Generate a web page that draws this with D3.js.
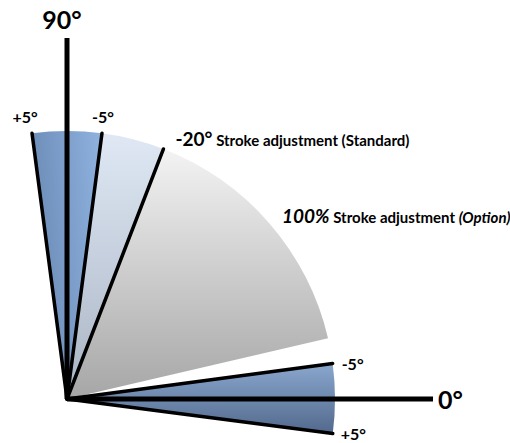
<!DOCTYPE html>
<html>
<head>
<script src="https://d3js.org/d3.v7.min.js"></script>
<style>
body { margin: 0; background: #fff; }
text { font-family: Lato, "Open Sans", sans-serif; font-weight: bold; fill: #000; }
</style>
</head>
<body>
<div id="viz"></div>
<script>
// drawn angles (degrees, counter-clockwise from the 0° axis) - the sketch is not to scale
var wedgeNames  = ["top", "standard", "option", "bottom"];
var wedgeFrom   = [97.5, 82.5, 68.9, 7.6];
var wedgeTo     = [82.5, 68.9, 13.1, -7.4];
var wedgeStops  = [["#6d8cb8", "#8fb2df"], ["#dfe8f4", "#a9b4c4"], ["#f3f3f3", "#a6a6a6"], ["#8aa7ce", "#52698c"]];

// black edge lines of the wedges
var edgeAngles  = [97.5, 82.5, 68.9, 7.6, -7.4];
var edgeLabels  = ["+5°", "-5°", "", "-5°", "+5°"];

// the two main axes
var axisAngles  = [90, 0];
var axisLength  = [361, 366];
var axisLabels  = ["90°", "0°"];

var width = 510, height = 443;
var origin = {x: 67, y: 399};
var radius = 268;

var svg = d3.select("#viz").append("svg")
    .attr("width", width)
    .attr("height", height);

var deg = d3.scaleLinear().domain([0, 360]).range([0, 2 * Math.PI]);
// d3 angles start at 12 o'clock and run clockwise
function d3a(a) { return deg(90 - a); }

var defs = svg.append("defs");
wedgeNames.forEach(function(n, i) {
  var g = defs.append("linearGradient").attr("id", "g-" + n);
  if (n === "top") g.attr("x1", "0").attr("y1", "0.3").attr("x2", "1").attr("y2", "0");
  else g.attr("x1", "0").attr("y1", "0").attr("x2", "0").attr("y2", "1");
  g.append("stop").attr("offset", "0").attr("stop-color", wedgeStops[i][0]);
  g.append("stop").attr("offset", "1").attr("stop-color", wedgeStops[i][1]);
});

var plot = svg.append("g")
    .attr("transform", "translate(" + origin.x + "," + origin.y + ")");

var arc = d3.arc().innerRadius(0).outerRadius(radius);

plot.selectAll("path.wedge")
  .data(wedgeNames)
  .enter().append("path")
    .attr("class", "wedge")
    .attr("d", function(d, i) {
      return arc({startAngle: d3a(wedgeFrom[i]), endAngle: d3a(wedgeTo[i])});
    })
    .attr("fill", function(d) { return "url(#g-" + d + ")"; });

// edge lines
plot.selectAll("line.edge")
  .data(edgeAngles)
  .enter().append("line")
    .attr("class", "edge")
    .attr("x1", 0).attr("y1", 0)
    .attr("x2", function(d) { return d3.pointRadial(d3a(d), radius)[0]; })
    .attr("y2", function(d) { return d3.pointRadial(d3a(d), radius)[1]; })
    .attr("stroke", "#000")
    .attr("stroke-width", 3.5)
    .attr("stroke-linecap", "round");

// axes
plot.selectAll("line.axis")
  .data(axisAngles)
  .enter().append("line")
    .attr("class", "axis")
    .attr("x1", 0).attr("y1", 0)
    .attr("x2", function(d, i) { return d3.pointRadial(d3a(d), axisLength[i])[0]; })
    .attr("y2", function(d, i) { return d3.pointRadial(d3a(d), axisLength[i])[1]; })
    .attr("stroke", "#000")
    .attr("stroke-width", 5);

// axis labels
plot.append("text")
    .attr("x", d3.pointRadial(d3a(axisAngles[0]), axisLength[0])[0] - 5)
    .attr("y", d3.pointRadial(d3a(axisAngles[0]), axisLength[0])[1] - 9)
    .attr("text-anchor", "middle")
    .style("font-size", "25px")
    .text(axisLabels[0]);
plot.append("text")
    .attr("x", d3.pointRadial(d3a(axisAngles[1]), axisLength[1])[0] + 5)
    .attr("y", 10)
    .style("font-size", "25px")
    .text(axisLabels[1]);

// ±5° labels at the wedge edges
var labelPos = [[-7, -10], [1, -10], null, [9, 6], [8, 6]];
edgeAngles.forEach(function(a, i) {
  if (!edgeLabels[i]) return;
  var p = d3.pointRadial(d3a(a), radius);
  var t = plot.append("text")
      .style("font-size", "16px")
      .attr("x", p[0] + labelPos[i][0])
      .text(edgeLabels[i]);
  if (i < 2) t.attr("y", p[1] + labelPos[i][1]).attr("text-anchor", "middle");
  else t.attr("y", p[1] + labelPos[i][1]);
});

// -20° standard label
var p20 = d3.pointRadial(d3a(edgeAngles[2]), radius);
var t1 = plot.append("text")
    .attr("x", p20[0] + 12)
    .attr("y", p20[1] - 3);
t1.append("tspan").style("font-size", "19px").text("-20°");
t1.append("tspan").style("font-size", "15px").text(" Stroke adjustment (Standard)");

// 100% option label
var t2 = plot.append("text")
    .attr("x", 215)
    .attr("y", -176);
t2.append("tspan").style("font-size", "19px").style("font-style", "italic").text("100%");
t2.append("tspan").style("font-size", "15px").text(" Stroke adjustment ");
t2.append("tspan").style("font-size", "15px").style("font-style", "italic").text("(Option)");
</script>
</body>
</html>
